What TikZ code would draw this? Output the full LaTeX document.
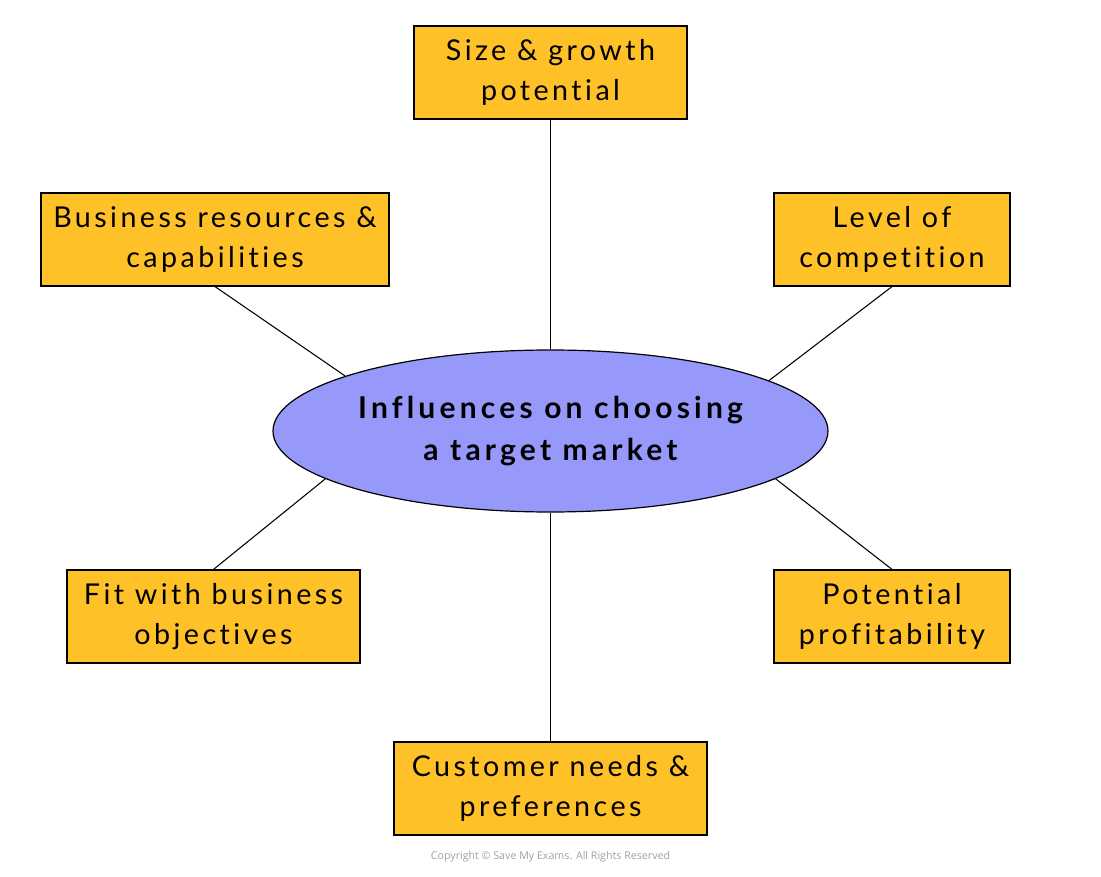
\documentclass[tikz,border=0pt]{standalone}
\usepackage{fontspec}
\setmainfont{Lato}[LetterSpace=12, Ligatures=NoCommon]
\newfontfamily\hubfont{Lato}[LetterSpace=14, Ligatures=NoCommon]
\newfontfamily\copyfont{Open Sans}
\usetikzlibrary{shapes.geometric}
\definecolor{boxorange}{RGB}{255,192,40}
\definecolor{ellblue}{RGB}{150,152,250}
\definecolor{copygray}{RGB}{160,160,160}
\tikzset{
  infobox/.style={draw=black, line width=0.9pt, fill=boxorange, inner sep=0pt,
    align=center, font=\fontsize{21.5}{30}\selectfont},
  hub/.style={ellipse, draw=black, line width=0.9pt, fill=ellblue, inner sep=0pt,
    minimum width=555*0.75pt, minimum height=162*0.75pt, align=center,
    font=\hubfont\fontsize{22.5}{31}\selectfont\bfseries},
  link/.style={draw=black, line width=0.8pt}
}
\begin{document}
\begin{tikzpicture}[x=0.75pt, y=-0.75pt]
\useasboundingbox (0,0) rectangle (1101,877);
\node[hub] (hub) at (550.5,431) {Influences on choosing\\a target market};
\node[infobox, minimum width=273*0.75pt, minimum height=93*0.75pt] (size) at (550.5,72.5) {Size \& growth\\potential};
\node[infobox, minimum width=348*0.75pt, minimum height=93*0.75pt] (res) at (215,239.5) {Business resources \&\\capabilities};
\node[infobox, minimum width=236*0.75pt, minimum height=93*0.75pt] (comp) at (892,239.5) {Level of\\competition};
\node[infobox, minimum width=293*0.75pt, minimum height=93*0.75pt] (fit) at (213.5,616.5) {Fit with business\\objectives};
\node[infobox, minimum width=236*0.75pt, minimum height=93*0.75pt] (prof) at (892,616.5) {Potential\\profitability};
\node[infobox, minimum width=313*0.75pt, minimum height=93*0.75pt] (cust) at (550.5,788.5) {Customer needs \&\\preferences};
\draw[link] (size.south) -- (hub.north);
\draw[link] (cust.north) -- (hub.south);
\draw[link] (res.south) -- (hub.165.8);
\draw[link] (comp.south) -- (hub.13.8);
\draw[link] (fit.north) -- (hub.192.3);
\draw[link] (prof.north) -- (hub.-12);
\node[font=\copyfont\fontsize{8}{9.5}\selectfont, text=copygray] (copy) at (550.5,857) {Copyright \textcopyright{} Save My Exams. All Rights Reserved};
\end{tikzpicture}
\end{document}
